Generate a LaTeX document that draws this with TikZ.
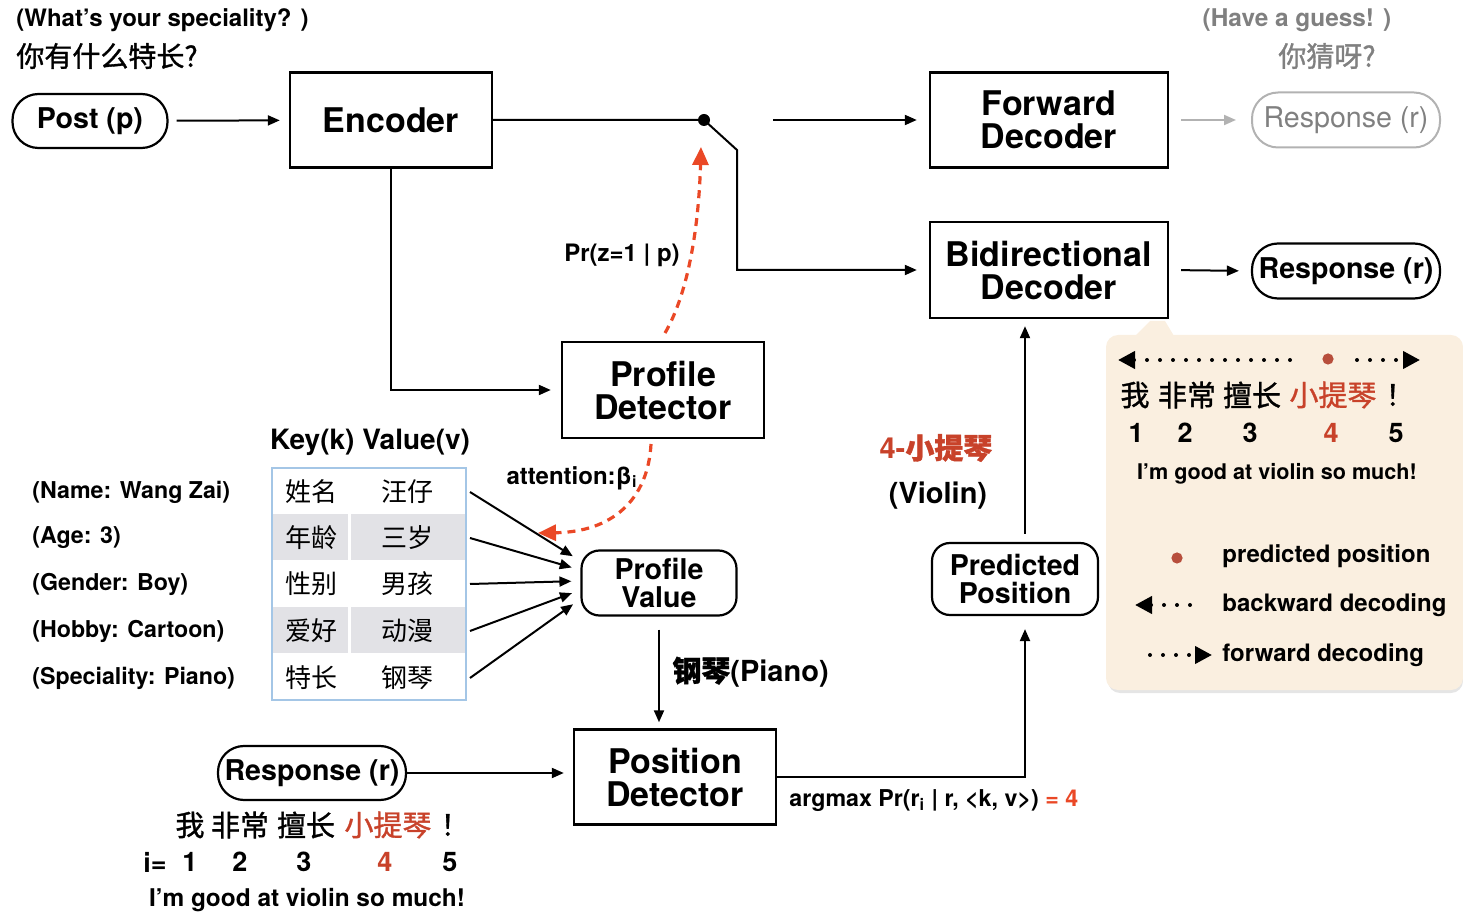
\documentclass[tikz,border=0pt]{standalone}
\usepackage{fontspec}
\setmainfont{TeX Gyre Heros}
\newfontfamily\cjk{Noto Sans CJK SC}
\newfontfamily\cjkmed{Noto Sans CJK SC}[FakeBold=1.2]
\usetikzlibrary{arrows.meta}
\usetikzlibrary{positioning}
\definecolor{violin}{RGB}{200,66,42}
\definecolor{attn}{RGB}{234,72,38}
\definecolor{posdot}{RGB}{183,78,60}
\definecolor{guess}{RGB}{128,128,128}
\definecolor{guessline}{RGB}{178,178,178}
\definecolor{notefill}{RGB}{250,239,224}
\definecolor{rowfill}{RGB}{226,226,230}
\definecolor{tableline}{RGB}{164,198,230}
\newcommand{\txtsize}[1]{\fontsize{#1}{#1}\selectfont}

\begin{document}
\begin{tikzpicture}[x=0.5pt, y=-0.5pt, >={Triangle[length=6pt,width=5pt]}]
  \tikzset{every node/.style={font=\bfseries, inner sep=0pt},
    block/.style={draw, line width=1.2pt, minimum width=101pt, minimum height=47.5pt,
      align=center, font=\bfseries\fontsize{17}{16.5}\selectfont},
    wideblock/.style={block, minimum width=119pt},
    pill/.style={draw, line width=1.1pt, rounded corners=13pt, minimum height=27.5pt,
      font=\bfseries\txtsize{14.3}},
    smallbox/.style={draw, line width=1.1pt, rounded corners=9pt, align=center,
      font=\bfseries\fontsize{14.3}{14}\selectfont},
    flow/.style={->, line width=1pt},
    attnflow/.style={-{Triangle[length=9pt,width=8pt]}, attn, line width=1.6pt,
      dash pattern=on 4pt off 3pt},
    dotline/.style={line width=2pt, dash pattern=on 0pt off 6.5pt, line cap=round},
    word/.style={font=\cjkmed\txtsize{14.5}},
    digit/.style={font=\bfseries\txtsize{13.5}}
  }
  \useasboundingbox (0,0) rectangle (1463,914);

  % questions
  \node[anchor=west, font=\bfseries\txtsize{12}] (askEn) at (16,20) {(What’s your speciality? )};
  \node[anchor=west, font=\cjkmed\txtsize{14}] (askZh) at (16,56) {你有什么特长?};
  \node[font=\bfseries\txtsize{12.2}, text=guess] (guessEn) at (1297,20) {(Have a guess! )};
  \node[font=\cjkmed\txtsize{14}, text=guess] (guessZh) at (1327,56) {你猜呀?};

  % main blocks
  \node[pill, minimum width=77.5pt, minimum height=27pt] (post) at (90,121) {Post (p)};
  \node[block] (enc) at (391,120) {Encoder};
  \node[wideblock] (fwdec) at (1049,120) {Forward\\Decoder};
  \node[wideblock, minimum height=48pt] (bidec) at (1049,270) {Bidirectional\\Decoder};
  \node[pill, minimum width=94pt, draw=guessline, text=guess, line width=1pt,
    font=\mdseries\txtsize{14.3}] (guessresp) at (1346,120) {Response (r)};
  \node[pill, minimum width=94pt] (resp) at (1346,271) {Response (r)};
  \node[block, minimum height=48pt] (pdet) at (663,390) {Profile\\Detector};
  \node[smallbox, minimum width=77.5pt, minimum height=32.5pt] (pval) at (659,583) {Profile\\Value};
  \node[block] (posdet) at (675,777) {Position\\Detector};
  \node[smallbox, minimum width=83pt, minimum height=36pt] (predpos) at (1015,579) {Predicted\\Position};
  \node[pill, minimum width=94pt, minimum height=27pt] (inresp) at (312,773) {Response (r)};

  % encoder and switch
  \coordinate (sw) at (704,120);
  \coordinate (lever) at (737,150);
  \coordinate (fwstart) at (773,120);
  \draw[flow, shorten <=4pt, shorten >=4.5pt] (post) -- (enc);
  \draw[flow, shorten >=6pt] (enc.east) -- (sw) -- (lever) |- (bidec.west);
  \fill (sw) circle (3pt);
  \draw[flow, shorten >=6pt] (fwstart) -- (fwdec.west);
  \draw[flow, guessline, shorten <=6pt, shorten >=7.5pt] (fwdec.east) -- (guessresp.west);
  \draw[flow, shorten <=6pt, shorten >=6pt] (bidec.east) -- (resp.west);
  \draw[flow, shorten >=5pt] (enc.south) |- (pdet.west);

  % profile detector gates
  \coordinate (zgate) at (701,147);
  \coordinate (attnend) at (538,533);
  \draw[attnflow] (665,333) .. controls (690,290) and (699,220) .. (zgate);
  \draw[attnflow] (651,444) .. controls (648,500) and (612,532) .. (attnend);
  \node[font=\bfseries\txtsize{12}] (przlabel) at (622,255) {Pr(z=1 | p)};
  \node[font=\bfseries\txtsize{12}] (attlabel) at (572,478) {attention:β\textsubscript{i}};

  % key-value table
  \node[font=\bfseries\txtsize{14}] (kvhead) at (370,442) {Key(k) Value(v)};
  \foreach \top in {514,607} {
    \fill[rowfill] (273,\top) rectangle (348,\top+46);
    \fill[rowfill] (351,\top) rectangle (465,\top+46);
  }
  \draw[tableline, line width=0.8pt] (272,468) rectangle (466,700);
  \foreach \r/\y/\attr/\key/\val/\dy in {1/492/{(Name: Wang Zai)}/姓名/汪仔/11,
      2/538/{(Age: 3)}/年龄/三岁/6.5, 3/584/{(Gender: Boy)}/性别/男孩/1,
      4/631/{(Hobby: Cartoon)}/爱好/动漫/-3.5, 5/678/{(Speciality: Piano)}/特长/钢琴/-8} {
    \node[anchor=west, font=\bfseries\txtsize{11.6}] (attr\r) at (32,\y) {\attr};
    \node[font=\cjk\txtsize{13}] (key\r) at (311,\y) {\key};
    \node[font=\cjk\txtsize{13}] (val\r) at (407,\y) {\val};
    \coordinate (tab\r) at (470,\y);
    \draw[flow, shorten >=4.5pt] (tab\r) -- ([yshift=\dy pt]pval.west);
  }

  % position detection
  \draw[flow, shorten <=6.5pt, shorten >=3pt] (pval.south) -- (pval.south |- posdet.north);
  \node[anchor=west, font=\bfseries\txtsize{14.5}] (pianolabel) at (672,672) {{\cjkmed 钢琴}(Piano)};
  \draw[flow, shorten >=4.5pt] (inresp.east) -- (inresp.east -| posdet.west);
  \draw[flow, shorten >=6.5pt] (posdet.east) -| ([xshift=5pt]predpos.south);
  \node[anchor=west, font=\bfseries\txtsize{11.6}] (argmax) at (789,801)
    {argmax Pr(r\textsubscript{i} | r, <k, v>) \textcolor{attn}{= 4}};
  \coordinate (vup) at ([xshift=5pt]predpos.north);
  \draw[flow, shorten <=4pt, shorten >=3.5pt] (vup) -- (vup |- bidec.south);
  \node[font=\bfseries\txtsize{14.5}, text=violin] (violinZh) at (936,448) {4-{\cjkmed 小提琴}};
  \node[font=\bfseries\txtsize{14.5}] (violinEn) at (938,496) {(Violin)};

  % response tokens
  \foreach \x/\w/\c in {190/我/black, 240/非常/black, 306/擅长/black, 388/小提琴/violin, 455/！/black}
    \node[word, text=\c] at (\x,825) {\w};
  \node[digit] (idx) at (155,862) {i=};
  \foreach \x/\n/\c in {190/1/black, 240/2/black, 304/3/black, 385/4/violin, 450/5/black}
    \node[digit, text=\c] at (\x,862) {\n};
  \node[font=\bfseries\txtsize{12.2}] (transl) at (307,900) {I’m good at violin so much!};

  % note
  \fill[black!10, rounded corners=6pt] (1108,338) rectangle (1463,693);
  \fill[notefill, rounded corners=6pt] (1106,335) rectangle (1463,690);
  \fill[notefill] (1135,336) -- (1150,321) -- (1165,321) -- (1174,336) -- cycle;
  \coordinate (bwtip) at (1118,360);
  \coordinate (bwend) at (1300,360);
  \coordinate (fwbeg) at (1357,360);
  \coordinate (fwtip) at (1420,360);
  \draw[dotline, {Triangle[length=8.5pt,width=8.5pt]}-] (bwtip) -- (bwend);
  \draw[dotline, -{Triangle[length=8.5pt,width=8.5pt]}] (fwbeg) -- (fwtip);
  \fill[posdot] (1328,359) circle (2.8pt);
  \foreach \x/\w/\c in {1135/我/black, 1187/非常/black, 1252/擅长/black, 1333/小提琴/violin, 1400/！/black}
    \node[word, text=\c] at (\x,395) {\w};
  \foreach \x/\n/\c in {1136/1/black, 1185/2/black, 1250/3/black, 1331/4/violin, 1396/5/black}
    \node[digit, text=\c] at (\x,433) {\n};
  \node[font=\bfseries\txtsize{10.8}] (notetransl) at (1277,474) {I’m good at violin so much!};
  \fill[posdot] (1177,558) circle (2.8pt);
  \coordinate (bwkey) at (1135,605);
  \coordinate (bwkeyend) at (1198,605);
  \coordinate (fwkey) at (1150,655);
  \coordinate (fwkeytip) at (1212,655);
  \draw[dotline, {Triangle[length=8.5pt,width=8.5pt]}-] (bwkey) -- (bwkeyend);
  \draw[dotline, -{Triangle[length=8.5pt,width=8.5pt]}] (fwkey) -- (fwkeytip);
  \node[anchor=west, font=\bfseries\txtsize{12}] (keypos) at (1222,556) {predicted position};
  \node[anchor=west, font=\bfseries\txtsize{12}] (keybw) at (1222,605) {backward decoding};
  \node[anchor=west, font=\bfseries\txtsize{12}] (keyfw) at (1222,655) {forward decoding};
\end{tikzpicture}
\end{document}
